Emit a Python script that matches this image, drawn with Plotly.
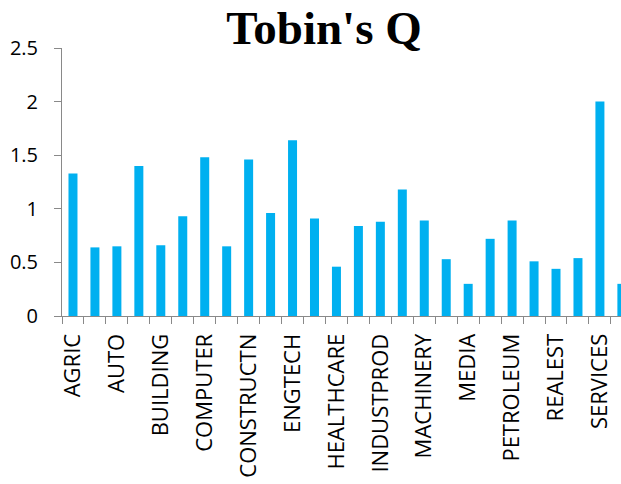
import plotly.graph_objects as go

# industries, every other one labelled on the axis as in the original sheet
industries = ["AGRIC", "APPAREL", "AUTO", "BEVERAGE", "BUILDING", "CHEMICALS",
              "COMPUTER", "CONSTMATS", "CONSTRUCTN", "ELECTRIC", "ENGTECH", "FOOD",
              "HEALTHCARE", "HOUSEHOLD", "INDUSTPROD", "LEISURE", "MACHINERY", "MEDEQUIP",
              "MEDIA", "METALS", "PETROLEUM", "PHARMA", "REALEST", "RETAIL",
              "SERVICES", "TELECOM"]
tobins_q = [1.33, 0.64, 0.65, 1.40, 0.66, 0.93,
            1.48, 0.65, 1.46, 0.96, 1.64, 0.91,
            0.46, 0.84, 0.88, 1.18, 0.89, 0.53,
            0.30, 0.72, 0.89, 0.51, 0.44, 0.54,
            2.00, 0.30]
shown_labels = [name if i % 2 == 0 else "" for i, name in enumerate(industries)]

fig = go.Figure()
fig.add_trace(go.Bar(x=industries, y=tobins_q, marker_color="#00B0F0",
                     marker_line_width=0, name="Tobin's Q"))

# x range stops just past the last bar's edge, so it is cut off like in the sheet
axis_grey = "#898989"
fig.update_layout(
    width=621, height=484,
    margin=dict(l=62, r=0, t=48, b=168, autoexpand=False),
    paper_bgcolor="white", plot_bgcolor="white",
    showlegend=False,
    bargap=0.59,
    title=dict(text="<b>Tobin's Q</b>", x=0.5217, xanchor="center",
               y=0.909, yanchor="bottom", automargin=False,
               font=dict(family="Liberation Serif", size=47, color="black")),
    font=dict(family="Open Sans", color="black"),
)
fig.update_xaxes(
    type="category", tickmode="array", tickvals=industries, ticktext=shown_labels,
    tickangle=-90, tickson="boundaries", ticks="outside", ticklen=7,
    tickcolor=axis_grey, showline=True, linecolor=axis_grey, linewidth=1,
    showgrid=False, range=[-0.5, 24.96], ticklabelstandoff=8, automargin=False,
    tickfont=dict(family="Open Sans", size=22, color="black"),
)
fig.update_yaxes(
    range=[0, 2.5], dtick=0.5, ticks="outside", ticklen=7, tickcolor=axis_grey,
    showline=True, linecolor=axis_grey, linewidth=1, showgrid=False, zeroline=False,
    ticklabelstandoff=12, automargin=False,
    tickfont=dict(family="Open Sans", size=20, color="black"),
)

# drop the browser's default 8px body margin so the figure sits at the window corner
fig.write_html("out.html", config={"displayModeBar": False},
               post_script="document.body.style.margin = '0';")
